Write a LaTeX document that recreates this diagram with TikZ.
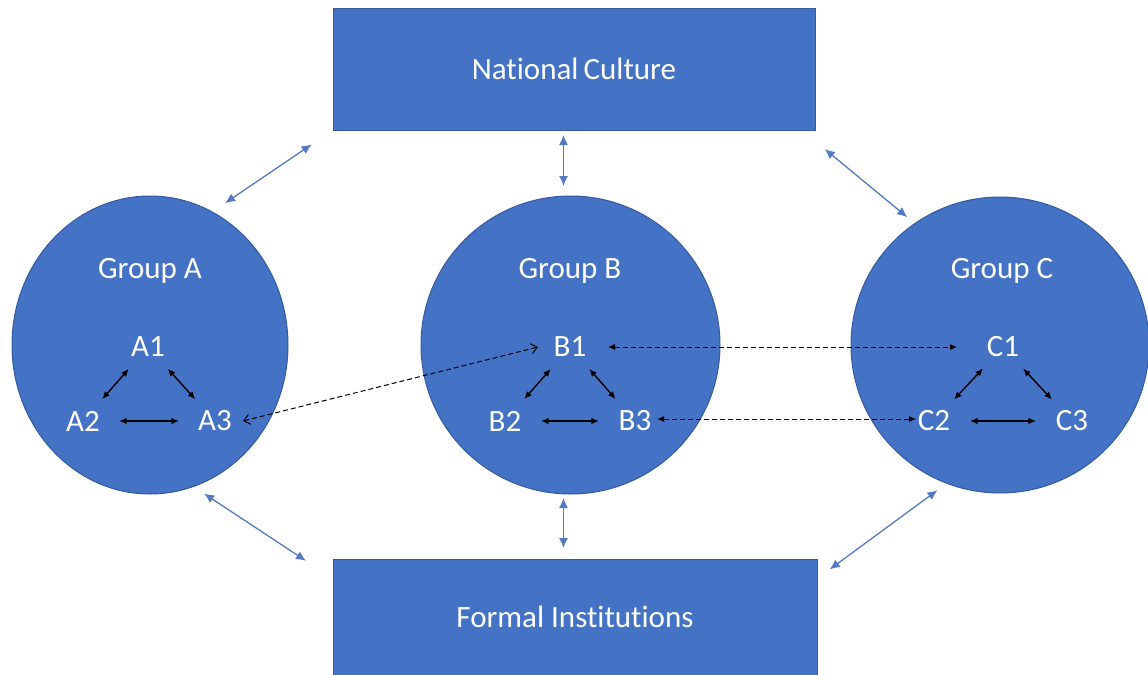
\documentclass[tikz,border=0pt]{standalone}
\usepackage{fontspec}
\setmainfont{Carlito}[Ligatures=NoCommon]
\usetikzlibrary{arrows.meta,shapes.geometric,calc}

\definecolor{officeblue}{RGB}{68,114,196}
\definecolor{officeedge}{RGB}{52,90,160}
\definecolor{linkblue}{RGB}{84,122,194}

\tikzset{
	block/.style={draw=officeedge,line width=0.5pt,fill=officeblue,text=white,minimum width=241pt,minimum height=61pt,inner sep=0pt,outer sep=0pt},
	group/.style={ellipse,draw=officeedge,line width=0.5pt,fill=officeblue,inner sep=0pt,outer sep=0pt},
	grouplabel/.style={text=white,inner sep=0pt},
	member/.style={ellipse,text=white,minimum width=36pt,minimum height=26pt,inner sep=0pt,outer sep=0pt},
	link/.style={draw=linkblue,line width=0.65pt,{Latex[length=5pt,width=4.5pt]}-{Latex[length=5pt,width=4.5pt]}},
	tie/.style={draw=black,line width=0.7pt,{Latex[length=3.8pt,width=3.3pt]}-{Latex[length=3.8pt,width=3.3pt]}},
	crosstie/.style={draw=black,line width=0.5pt,dash pattern=on 2.5pt off 1.5pt},
}

\begin{document}
\begin{tikzpicture}[x=0.5pt,y=-0.5pt,every node/.style={font=\fontsize{15.5}{18}\selectfont}]
		\useasboundingbox (0,0) rectangle (1148,675);
		
		%Shape: Rectangle [National Culture]
		\node[block] (NC) at (574,69) {National\,Culture};
		%Shape: Rectangle [Formal Institutions]
		\node[block,minimum width=242pt,minimum height=58pt] (FI) at (575,617) {Formal Institutions};
		
		%Shape: Circle [Group A]
		\node[group,minimum width=138pt,minimum height=149pt] (A) at (150,345) {};
		%Shape: Circle [Group B]
		\node[group,minimum width=149.5pt,minimum height=149pt] (B) at (570.5,345) {};
		%Shape: Circle [Group C]
		\node[group,minimum width=149pt,minimum height=148pt] (C) at (1000,345) {};
		
		% Text Node
		\node[grouplabel] (gA) at (150,271) {Group A};
		% Text Node
		\node[grouplabel] (gB) at (570,271) {Group B};
		% Text Node
		\node[grouplabel] (gC) at (1002,271) {Group C};
		
		% Members
		\node[member] (A1) at (148,347) {A1};
		\node[member] (A2) at (83,421) {A2};
		\node[member] (A3) at (215,421) {A3};
		\node[member] (B1) at (570,347) {B1};
		\node[member] (B2) at (505,421) {B2};
		\node[member] (B3) at (635,421) {B3};
		\node[member] (C1) at (1003,347) {C1};
		\node[member] (C2) at (934,421) {C2};
		\node[member] (C3) at (1072,421) {C3};
		
		%Straight Lines [groups to culture and institutions]
		\draw[link,shorten <=7.9pt,shorten >=12.9pt] (A.65) -- (NC.south west);
		\draw[link,shorten <=5pt,shorten >=2.5pt] ($(B.north)+(-7,0)$) -- ($(B.north|-NC.south)+(-7,0)$);
		\draw[link,shorten <=15pt,shorten >=5pt] (NC.-15.8) -- (C.125);
		\draw[link,shorten <=6.5pt,shorten >=16.2pt] (A.-73) -- (FI.171.5);
		\draw[link,shorten <=2pt,shorten >=5.5pt] ($(B.south)+(-7,0)$) -- ($(B.south|-FI.north)+(-7,0)$);
		\draw[link,shorten <=5.9pt,shorten >=7.9pt] (C.-111) -- (FI.9.6);
		
		%Straight Lines [inside groups]
		\draw[tie] (A1) -- (A2);
		\draw[tie] (A1) -- (A3);
		\draw[tie] (A2) -- (A3);
		\draw[tie] (B1) -- (B2);
		\draw[tie] (B1) -- (B3);
		\draw[tie] (B2) -- (B3);
		\draw[tie] (C1) -- (C2);
		\draw[tie] (C1) -- (C3);
		\draw[tie] (C2) -- (C3);
		
		%Dashed Lines [between groups]
		\draw[crosstie,{Straight Barb[length=3pt,width=5pt]}-{Straight Barb[length=3pt,width=5pt]}] ([xshift=-4pt]A3.east) -- ([xshift=2pt]B1.west);
		\draw[crosstie,{Latex[length=3.5pt,width=3pt]}-{Latex[length=3.5pt,width=3pt]}] ([xshift=1pt]B1.east) -- ([xshift=-5pt]C1.west);
		\draw[crosstie,{Latex[length=3.5pt,width=3pt]}-{Latex[length=3.5pt,width=3pt]}] ([xshift=-7pt,yshift=1pt]B3.east) -- ([xshift=9pt,yshift=1pt]C2.west);
		
\end{tikzpicture}
\end{document}
